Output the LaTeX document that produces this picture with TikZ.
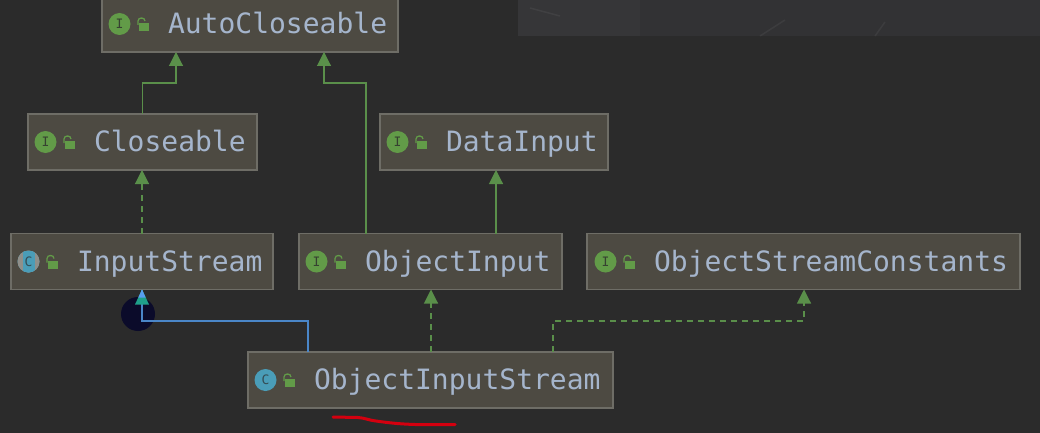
\documentclass[tikz,border=0pt]{standalone}
\usepackage{fontspec}
\setmonofont{DejaVu Sans Mono}
\usetikzlibrary{arrows.meta,calc}
\definecolor{bgc}{HTML}{2B2B2B}
\definecolor{boxfill}{HTML}{4D4A42}
\definecolor{boxedge}{HTML}{6E6D66}
\definecolor{txt}{HTML}{A5B5CC}
\definecolor{grn}{HTML}{5A8F4A}
\definecolor{icgrn}{HTML}{629B48}
\definecolor{icblu}{HTML}{4A9DB8}
\definecolor{blu}{HTML}{4A86C8}
\definecolor{tipblu}{HTML}{589DF0}
\definecolor{tipteal}{HTML}{1FA08A}
\definecolor{strip}{HTML}{323234}
\definecolor{blob}{HTML}{0B0B2A}
\definecolor{halo}{HTML}{8F8F8A}
\definecolor{redline}{HTML}{D4000F}
\tikzset{
  umlbox/.style={draw=boxedge,fill=boxfill,line width=1.2pt,inner sep=0pt,outer sep=0pt,
    font=\ttfamily\fontsize{28}{28}\selectfont,text=txt,text height=21pt,text depth=2pt},
  conn/.style={draw=grn,line width=1.1pt,-{Triangle[width=14pt,length=14pt,fill=grn]}},
  dashconn/.style={conn,dash pattern=on 6pt off 5pt},
  bluconn/.style={draw=blu,line width=1.1pt},
  iconletter/.style={font=\ttfamily\fontsize{13}{13}\selectfont,inner sep=0pt},
}
% name, x1, y1, x2, y2, text x, icon kind (I or C), text
\newcommand{\umlnode}[8]{%
  \pgfmathsetmacro{\bw}{#4-#2}\pgfmathsetmacro{\bh}{#5-#3}%
  \pgfmathsetmacro{\bx}{(#2+#4)/2}\pgfmathsetmacro{\by}{(#3+#5)/2}%
  \pgfmathsetmacro{\bo}{#6-#2}%
  \node[umlbox,minimum width=\bw pt,minimum height=\bh pt] (#1) at (\bx,\by)
    {\makebox[\bw pt][l]{\hspace{\bo pt}#8}};%
  \pgfmathsetmacro{\ix}{#6-48.5}\pgfmathsetmacro{\iy}{\by}%
  \ifx#7I
    \fill[icgrn] (\ix,\iy) circle (11);
    \node[iconletter,text=bgc!80!icgrn] (#1i) at (\ix,\iy) {I};
  \else
    \fill[icblu] (\ix,\iy) circle (11);
    \node[iconletter,text=bgc!70!icblu] (#1i) at (\ix,\iy) {C};
  \fi
  \pgfmathsetmacro{\lx}{#6-24}%
  \fill[icgrn] (\lx-5,\iy-1) rectangle (\lx+5,\iy+7);
  \draw[icgrn,line width=1.3pt] (\lx-6,\iy+1) -- (\lx-6,\iy-3) .. controls (\lx-6,\iy-7) and (\lx+1,\iy-7) .. (\lx+1,\iy-3);
}
\begin{document}
\begin{tikzpicture}[x=1pt,y=-1pt]
\path[clip] (0,0) rectangle (1040,433);
\fill[bgc] (0,0) rectangle (1040,433);
% textured strip, top right
\fill[strip] (518,0) rectangle (1040,36);
\fill[white,opacity=.025] (518,0) rectangle (640,36);
\draw[white,opacity=.05,line width=1.5pt] (760,36) -- (785,20) (875,36) -- (885,22) (530,8) -- (560,16);
% dark blob behind the arrow tip
\fill[blob] (138,314) circle (17);
% boxes
\umlnode{ac}{102}{-4}{398}{52}{168}{I}{AutoCloseable}
\umlnode{ce}{28}{114}{257}{170}{94}{I}{Closeable}
\umlnode{di}{380}{114}{608}{170}{446}{I}{DataInput}
\umlnode{is}{11}{233.5}{273}{289.5}{77}{C}{InputStream}
\umlnode{oi}{299}{233.5}{562}{289.5}{365}{I}{ObjectInput}
\umlnode{os}{587}{233.5}{1020}{289.5}{654}{I}{ObjectStreamConstants}
\umlnode{ois}{248}{352}{613}{408}{314}{C}{ObjectInputStream}
% gray halo on the InputStream icon, with its narrow blue core
\fill[halo] ($(is.west)+(17.5,0)$) circle (11);
\begin{scope}
  \clip ($(is.west)+(17.5,0)$) circle (11);
  \fill[icblu] ($(is.west)+(11.5,-11)$) rectangle ($(is.west)+(23.5,11)$);
\end{scope}
\node[iconletter,text=bgc!70!icblu] at ($(is.west)+(17.5,0)$) {C};
% bend points
\coordinate (b1) at (176,83);
\coordinate (b2) at (366,83);
\coordinate (b3) at (324,83);
\coordinate (b4) at (496,233);
\coordinate (b5) at (308,321);
\coordinate (b6) at (431,321);
\coordinate (b7) at (553,321);
\coordinate (b8) at (804,321);
% connectors
\draw[conn] (ce.north) |- (b1) -- (b1 |- ac.south);
\draw[conn] (b2 |- oi.north) -- (b2) -- (b3) -- (b3 |- ac.south);
\draw[conn] (b4 |- oi.north) -- (b4 |- di.south);
\draw[dashconn] (is.north) -- (ce.south -| is.north);
\draw[dashconn] (b6 |- ois.north) -- (b6 |- oi.south);
\draw[dashconn] (b7 |- ois.north) -- (b7) -- (b8) -- (b8 |- os.south);
\draw[bluconn] (b5 |- ois.north) -- (b5) -| (is.south);
% two-tone tip of the blue connector
\fill[tipteal] (is.south) ++(-7,15) -- ++(14,0) -- ++(-7,-15) -- cycle;
\fill[tipblu] (is.south) ++(-3.7,8) -- ++(7.4,0) -- ++(-3.7,-8) -- cycle;
% red stroke
\draw[redline,line width=3pt,line cap=round] (333,417) -- (358,417.5) .. controls (365,418) and (368,420) .. (376,421) .. controls (390,423) and (400,424) .. (415,424.5) -- (455,424.5);
\end{tikzpicture}
\end{document}
